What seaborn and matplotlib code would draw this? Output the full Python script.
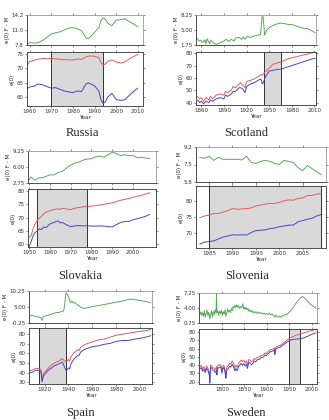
import matplotlib
matplotlib.use("Agg")
import matplotlib.pyplot as plt
import seaborn as sns
from matplotlib.ticker import AutoMinorLocator

# ---- Russia ----
russia_years = [1959, 1960, 1962, 1964, 1966, 1968, 1970, 1972, 1974, 1976, 1978, 1980, 1982, 1984, 1986,
                1987, 1988, 1990, 1992, 1993, 1994, 1995, 1996, 1998, 2000, 2002, 2004, 2006, 2008, 2010]
russia_female = [71.3, 72.4, 72.8, 73.3, 73.5, 73.4, 73.5, 73.4, 73.2, 73.1, 73.0, 73.0, 73.3, 73.2, 74.0,
                 74.3, 74.4, 74.3, 73.8, 72.0, 71.2, 71.6, 72.4, 73.0, 72.3, 71.9, 72.3, 73.3, 74.2, 74.9]
russia_male = [62.9, 63.4, 63.7, 64.5, 64.2, 63.6, 63.0, 63.2, 62.6, 62.0, 61.7, 61.4, 62.0, 61.8, 64.5,
               64.8, 64.6, 63.8, 62.0, 58.9, 57.6, 58.2, 59.8, 61.2, 59.0, 58.7, 58.9, 60.4, 61.8, 63.0]
russia_gap_years = russia_years
russia_gap = [8.0, 8.3, 8.2, 8.3, 8.8, 9.4, 10.2, 10.4, 10.6, 11.0, 11.4, 11.5, 11.3, 10.8, 9.4,
              9.1, 9.5, 10.5, 11.5, 13.0, 13.6, 13.3, 12.5, 11.9, 13.1, 13.2, 13.4, 12.8, 12.3, 11.7]

# ---- Scotland ----
scotland_years = [1855, 1858, 1860, 1863, 1866, 1870, 1872, 1875, 1880, 1885, 1890, 1892, 1895, 1900, 1902,
                  1905, 1910, 1912, 1915, 1918, 1920, 1925, 1930, 1935, 1939, 1941, 1942, 1945, 1950, 1955,
                  1960, 1967, 1975, 1985, 1995, 2005, 2011]
scotland_female = [45, 43, 44, 41, 44, 42, 45, 43, 46, 47, 46, 49, 48, 50, 53,
                   52, 55, 56, 54, 52, 57, 58, 59, 61, 62.5, 62, 63, 65, 68, 71,
                   72, 73.3, 75.5, 77, 78.5, 80, 81]
scotland_male = [42, 40, 41, 39, 41, 40, 42, 41, 43, 44, 43, 46, 45, 47, 49,
                 49, 52, 52, 51, 48, 53, 55, 56, 58, 59, 55, 56, 61, 65.5, 66.2,
                 66.7, 67.3, 69, 71, 73, 75, 76]
scotland_gap_years = [1855, 1857, 1859, 1861, 1863, 1865, 1866, 1868, 1870, 1871, 1873, 1875, 1877, 1880, 1883,
                      1886, 1890, 1893, 1896, 1900, 1903, 1906, 1910, 1913, 1916, 1918, 1921, 1925, 1930, 1935,
                      1938, 1939, 1940, 1941, 1942, 1943, 1944, 1945, 1947, 1950, 1955, 1960, 1965, 1970, 1975,
                      1980, 1985, 1990, 1995, 2000, 2005, 2011]
scotland_gap = [3.2, 2.6, 2.8, 2.3, 2.5, 2.9, 2.0, 3.1, 2.4, 2.0, 2.8, 2.4, 2.1, 1.9, 2.1,
                2.3, 2.6, 3.0, 2.5, 3.0, 2.6, 3.3, 3.4, 3.0, 3.5, 3.0, 3.6, 3.4, 3.7, 3.9,
                4.0, 4.6, 7.0, 8.2, 7.6, 5.8, 3.9, 4.4, 5.0, 5.5, 6.0, 6.3, 6.5, 6.4, 6.2,
                6.2, 5.9, 5.6, 5.4, 5.3, 5.0, 4.4]

# ---- Slovakia ----
slovakia_years = [1950, 1951, 1952, 1953, 1954, 1955, 1956, 1957, 1958, 1960, 1962, 1964, 1965, 1966, 1968,
                  1970, 1972, 1974, 1976, 1978, 1980, 1985, 1988, 1990, 1992, 1994, 1996, 1998, 2000, 2002,
                  2004, 2006, 2008]
slovakia_female = [62.5, 63.2, 66.0, 67.8, 69.0, 69.8, 70.5, 71.3, 72.0, 72.6, 73.0, 73.3, 73.0, 73.5, 73.2,
                   73.0, 73.5, 73.8, 74.0, 74.2, 74.3, 74.8, 75.3, 75.5, 76.0, 76.5, 76.8, 77.2, 77.6, 78.0,
                   78.3, 78.8, 79.3]
slovakia_male = [59.0, 61.0, 63.3, 64.5, 65.0, 65.8, 65.5, 66.5, 66.2, 67.6, 68.2, 68.8, 68.0, 68.2, 67.3,
                 66.6, 66.9, 67.0, 66.9, 67.0, 66.8, 66.9, 66.6, 66.5, 67.4, 68.2, 68.5, 68.6, 69.2, 69.6,
                 70.0, 70.5, 71.2]
slovakia_gap_years = [1950, 1951, 1952, 1953, 1954, 1955, 1957, 1960, 1962, 1964, 1966, 1968, 1970, 1972, 1974,
                      1976, 1978, 1980, 1982, 1984, 1986, 1988, 1990, 1991, 1992, 1994, 1996, 1998, 2000, 2002,
                      2004, 2006, 2008]
slovakia_gap = [3.4, 4.0, 3.6, 3.3, 3.6, 3.8, 3.9, 4.4, 4.4, 4.9, 5.1, 5.8, 6.4, 6.8, 7.0,
                7.4, 7.6, 7.7, 8.1, 8.2, 8.0, 8.5, 9.0, 8.9, 8.7, 8.3, 8.5, 8.3, 8.3, 7.9,
                8.0, 7.8, 7.7]

# ---- Slovenia ----
slovenia_years = list(range(1983, 2010))
slovenia_female = [74.8, 75.3, 75.6, 76.1, 76.1, 76.5, 77.0, 77.6, 77.4, 77.5, 77.6, 77.8, 78.4, 78.7, 79.0,
                   79.2, 79.2, 79.5, 80.0, 80.3, 80.2, 80.7, 80.9, 81.6, 81.7, 82.1, 82.2]
slovenia_male = [66.6, 67.2, 67.4, 67.6, 68.2, 68.8, 69.1, 69.5, 69.4, 69.5, 69.4, 70.2, 70.8, 70.9, 71.0,
                 71.4, 71.6, 72.0, 72.2, 72.5, 72.5, 73.5, 73.9, 74.3, 74.6, 75.3, 75.8]
slovenia_gap_years = slovenia_years
slovenia_gap = [8.2, 8.1, 8.3, 7.9, 8.2, 8.0, 8.0, 8.0, 8.0, 7.95, 8.3, 7.7, 7.6, 7.8, 7.9,
                7.8, 7.6, 7.5, 7.9, 7.8, 7.7, 7.2, 6.9, 7.4, 7.1, 6.8, 6.5]

# ---- Spain ----
spain_years = [1908, 1910, 1912, 1914, 1916, 1917, 1918, 1919, 1920, 1922, 1924, 1926, 1928, 1930, 1932,
               1934, 1935, 1936, 1937, 1938, 1939, 1940, 1941, 1942, 1944, 1946, 1948, 1949, 1950, 1952,
               1955, 1960, 1965, 1970, 1975, 1980, 1985, 1990, 1995, 2000, 2005, 2009]
spain_female = [42, 43, 44, 44.5, 44, 43, 31, 39, 40, 43, 46, 48, 50, 51, 52,
                54, 54.5, 53, 52, 52, 52, 54, 52, 56, 60, 62, 64, 63, 66, 68,
                70, 72, 74, 75, 77, 79, 80, 81, 82, 83, 83.8, 85]
spain_male = [40, 40.5, 42, 42.5, 42, 41, 30.5, 37, 38, 41, 43.5, 45, 47, 48, 49,
              50.5, 51, 48, 45, 42.5, 43, 45, 44, 49, 53, 56, 58, 58, 61, 63,
              65, 67, 68, 69.5, 70.5, 72.5, 73.5, 73.5, 74.8, 75.8, 77, 78.5]
spain_gap_years = [1908, 1910, 1912, 1914, 1916, 1917, 1918, 1919, 1920, 1922, 1925, 1928, 1930, 1932, 1934,
                   1936, 1937, 1938, 1939, 1940, 1941, 1942, 1943, 1944, 1945, 1948, 1950, 1953, 1955, 1960,
                   1965, 1970, 1975, 1980, 1985, 1990, 1993, 1995, 2000, 2005, 2009]
spain_gap = [2.0, 2.3, 1.9, 1.8, 1.6, 1.5, 0.6, 1.8, 2.0, 2.2, 2.5, 2.9, 3.2, 3.2, 3.5,
             3.7, 6.0, 9.7, 9.2, 8.5, 7.2, 6.5, 6.9, 6.3, 6.5, 5.6, 5.0, 4.5, 4.7, 5.1,
             5.5, 5.8, 6.2, 6.6, 6.9, 7.5, 7.6, 7.5, 7.1, 6.8, 6.4]

# ---- Sweden ----
sweden_years = [1751, 1754, 1757, 1760, 1763, 1766, 1769, 1772, 1773, 1775, 1778, 1780, 1783, 1785, 1788,
                1789, 1790, 1793, 1796, 1799, 1800, 1803, 1806, 1808, 1809, 1811, 1814, 1817, 1820, 1823,
                1826, 1829, 1831, 1834, 1837, 1840, 1843, 1846, 1849, 1852, 1855, 1857, 1860, 1863, 1866,
                1869, 1872, 1875, 1878, 1881, 1884, 1887, 1890, 1893, 1896, 1899, 1902, 1905, 1908, 1911,
                1914, 1917, 1918, 1919, 1921, 1925, 1930, 1935, 1940, 1945, 1950, 1955, 1960, 1965, 1970,
                1975, 1980, 1985, 1990, 1995, 2000, 2005, 2010]
sweden_female = [38, 40, 35, 38, 34, 39, 36, 31, 20, 40, 39, 37, 36, 34, 38,
                 32, 39, 40, 41, 38, 33, 40, 38, 31, 28, 38, 39, 42, 41, 45,
                 42, 37, 40, 37, 42, 44, 46, 44, 46, 43, 45, 40, 47, 46, 44,
                 45, 48, 47, 49, 50, 50, 52, 52, 53, 55, 54, 56, 57, 59, 59,
                 60, 61, 55, 59, 62, 63, 64, 66, 68, 70.5, 72.5, 74, 75, 76.4, 77.1,
                 78.2, 78.8, 79.7, 80.4, 81.6, 82.0, 82.8, 83.5]
sweden_male = [35.5, 37, 32.5, 35, 31, 36, 33.5, 28, 18, 37.5, 36, 34, 33, 31, 33,
               28, 35, 37, 38, 35, 30, 37, 35, 27, 24, 34, 35.5, 38.5, 37.5, 41,
               38, 33, 36, 33, 38, 40, 42, 39.5, 42, 39, 41, 36, 43.5, 42.5, 40.5,
               42, 45, 44, 46, 47, 47, 49, 49.5, 50, 52.5, 51.5, 53.5, 54.5, 56.5, 56.5,
               57.5, 58.5, 53, 57, 60, 61, 62, 64, 66, 68, 69.5, 70.8, 71.3, 71.6, 72,
               72.1, 72.8, 73.8, 74.8, 76.2, 77.4, 78.4, 79.5]
sweden_gap_years = [1751, 1753, 1755, 1757, 1759, 1761, 1763, 1765, 1767, 1769, 1771, 1773, 1775, 1777, 1779,
                    1781, 1783, 1785, 1787, 1788, 1789, 1791, 1793, 1795, 1797, 1799, 1801, 1803, 1805, 1807,
                    1809, 1811, 1813, 1815, 1817, 1819, 1821, 1823, 1825, 1827, 1829, 1831, 1833, 1835, 1837,
                    1839, 1841, 1843, 1845, 1847, 1848, 1850, 1852, 1854, 1856, 1858, 1860, 1862, 1864, 1866,
                    1868, 1870, 1873, 1876, 1879, 1882, 1885, 1888, 1891, 1894, 1897, 1900, 1903, 1906, 1909,
                    1912, 1915, 1918, 1920, 1923, 1926, 1929, 1932, 1935, 1938, 1941, 1944, 1947, 1950, 1955,
                    1960, 1965, 1970, 1975, 1980, 1985, 1990, 1995, 2000, 2005, 2010]
sweden_gap = [2.6, 3.2, 2.4, 3.0, 2.2, 3.4, 2.0, 2.8, 3.5, 2.3, 3.1, 1.6, 2.5, 3.4, 2.0,
              3.2, 2.6, 3.6, 2.9, 7.1, 3.0, 3.4, 2.5, 3.3, 2.8, 3.5, 2.4, 3.2, 2.7, 3.6,
              2.2, 3.0, 3.8, 3.1, 3.5, 3.0, 3.9, 3.4, 4.3, 4.0, 4.6, 4.1, 4.7, 4.2, 4.5,
              3.9, 4.3, 4.0, 4.4, 4.9, 3.8, 4.2, 3.7, 4.1, 3.6, 3.9, 3.3, 3.6, 3.2, 3.5,
              3.0, 3.3, 2.9, 3.2, 2.8, 3.1, 2.8, 3.0, 2.7, 2.9, 2.6, 2.8, 2.6, 2.9, 2.5,
              2.7, 2.4, 2.0, 2.5, 2.1, 2.0, 2.3, 2.0, 2.2, 2.4, 2.6, 2.5, 2.8, 3.1, 3.6,
              4.3, 5.0, 5.6, 6.2, 6.5, 6.1, 5.6, 5.0, 4.6, 4.3, 3.9]

countries = ["Russia", "Scotland", "Slovakia", "Slovenia", "Spain", "Sweden"]
shaded_periods = [(1970, 1994), (1943, 1966), (1954, 1978), (1985, 2009), (1915, 1938), (1950, 1974)]
gap_ticks = [["7.8", "11.0", "14.2"], ["1.75", "5.00", "8.25"], ["2.75", "6.00", "9.25"],
             ["5.8", "7.5", "9.2"], ["-0.25", "5.00", "10.25"], ["0.75", "4.00", "7.25"]]
e0_ticks = [[60, 65, 70, 75], [40, 50, 60, 70, 80], [60, 65, 70, 75, 80],
            [70, 75, 80], [30, 40, 50, 60, 70, 80], [20, 30, 40, 50, 60, 70, 80]]
year_ticks = [range(1960, 2011, 10), range(1860, 2011, 30), range(1950, 2001, 10),
              range(1985, 2006, 5), range(1920, 2001, 20), range(1800, 2001, 50)]

series = {
    "Russia": (russia_years, russia_female, russia_male, russia_gap_years, russia_gap),
    "Scotland": (scotland_years, scotland_female, scotland_male, scotland_gap_years, scotland_gap),
    "Slovakia": (slovakia_years, slovakia_female, slovakia_male, slovakia_gap_years, slovakia_gap),
    "Slovenia": (slovenia_years, slovenia_female, slovenia_male, slovenia_gap_years, slovenia_gap),
    "Spain": (spain_years, spain_female, spain_male, spain_gap_years, spain_gap),
    "Sweden": (sweden_years, sweden_female, sweden_male, sweden_gap_years, sweden_gap),
}

# layout in pixels: top panel box, bottom panel box, x limits, e0 limits, title centre
FIG_W, FIG_H = 329, 420
layout = {
    "Russia": ((27, 15, 143, 45), (27, 52, 143, 106), (1958.8, 2012.4), (56.7, 75.8), (82, 133)),
    "Scotland": ((196, 15, 316, 45), (196, 52, 316, 105), (1853, 2012), (38, 81), (246, 133)),
    "Slovakia": ((28, 151, 156, 183), (28, 189, 156, 247), (1949.5, 2011), (59, 80.7), (80, 276)),
    "Slovenia": ((196, 147, 326, 182), (196, 186, 326, 248), (1982.2, 2010), (65.4, 84.6), (247, 276)),
    "Spain": ((29, 291, 152, 323), (29, 328, 152, 384), (1907, 2010), (28.2, 86.5), (80, 413)),
    "Sweden": ((199, 293, 317, 323), (199, 329, 317, 384), (1749, 2012), (17, 84), (246, 413)),
}

RED, BLUE, GREEN = "#e05c5c", "#4646c8", "#5aaa5a"


def px_rect(box):
    x0, y0, x1, y1 = box
    return [x0 / FIG_W, 1 - y1 / FIG_H, (x1 - x0) / FIG_W, (y1 - y0) / FIG_H]


def style_axis(ax, light_top=False):
    for side, sp in ax.spines.items():
        sp.set_linewidth(0.6)
        sp.set_color("#999999" if light_top and side in ("top", "right") else "#333333")
    ax.tick_params(axis="both", which="major", labelsize=4, length=1.5, width=0.4, pad=1,
                   direction="out", top=True, right=True, colors="#333333")
    ax.tick_params(axis="y", which="minor", length=1, width=0.3, left=False, right=True)
    ax.yaxis.set_minor_locator(AutoMinorLocator(2))
    ax.grid(False)


sns.set_style("ticks")
fig = plt.figure(figsize=(FIG_W / 100, FIG_H / 100), dpi=100)

for i, name in enumerate(countries):
    years, female, male, gap_years, gap = series[name]
    top_box, bot_box, xlim, ylim, title_xy = layout[name]

    # top: female minus male difference
    ax_top = fig.add_axes(px_rect(top_box))
    sns.lineplot(x=gap_years, y=gap, ax=ax_top, color=GREEN, linewidth=0.7)
    lo, mid, hi = [float(t) for t in gap_ticks[i]]
    ax_top.set_ylim(lo, hi)
    ax_top.set_yticks([lo, mid, hi])
    ax_top.set_yticklabels(gap_ticks[i])
    ax_top.set_xlim(*xlim)
    ax_top.set_xticks(list(year_ticks[i]))
    ax_top.set_xticklabels([])
    ax_top.set_ylabel("e(0) F - M", fontsize=4, labelpad=1)
    style_axis(ax_top, light_top=True)

    # bottom: life expectancy at birth for both sexes
    ax_bot = fig.add_axes(px_rect(bot_box))
    s0, s1 = shaded_periods[i]
    ax_bot.axvspan(s0, s1, color="#d9d9d9", zorder=0, lw=0)
    ax_bot.axvline(s0, color="#333333", lw=0.7, zorder=1)
    ax_bot.axvline(s1, color="#333333", lw=0.7, zorder=1)
    sns.lineplot(x=years, y=female, ax=ax_bot, color=RED, linewidth=0.7)
    sns.lineplot(x=years, y=male, ax=ax_bot, color=BLUE, linewidth=0.7)
    ax_bot.set_xlim(*xlim)
    ax_bot.set_ylim(*ylim)
    ax_bot.set_xticks(list(year_ticks[i]))
    ax_bot.set_yticks(e0_ticks[i])
    ax_bot.set_xlabel("Year", fontsize=4, labelpad=0.5)
    ax_bot.set_ylabel("e(0)", fontsize=4, labelpad=1)
    style_axis(ax_bot)

    fig.text(title_xy[0] / FIG_W, 1 - title_xy[1] / FIG_H, name, ha="center", va="center",
             family=["Liberation Serif", "DejaVu Serif"], fontsize=9)

fig.savefig("out.png", dpi=100)
